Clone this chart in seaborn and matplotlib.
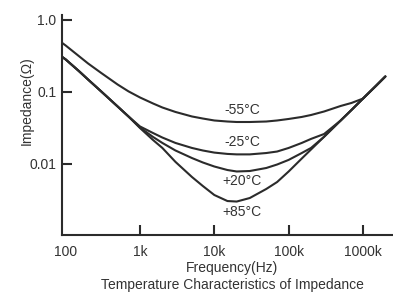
import numpy as np
import pandas as pd
import matplotlib
matplotlib.use("Agg")
import matplotlib.pyplot as plt
from matplotlib.ticker import FixedLocator, FixedFormatter, NullLocator
import seaborn as sns

# ---- data (frequency in Hz, impedance in ohm) ----
freq = [90, 100, 150, 200, 300, 500, 700, 1e3, 1.5e3, 2e3, 3e3, 5e3, 7e3,
        1e4, 1.5e4, 2e4, 3e4, 5e4, 7e4, 1e5, 1.5e5, 2e5, 3e5, 5e5, 7e5,
        1e6, 1.5e6, 2e6]

z_m55 = [0.479, 0.442, 0.316, 0.249, 0.184, 0.127, 0.102, 0.0839, 0.0692,
         0.0609, 0.0528, 0.0457, 0.0428, 0.0402, 0.0389, 0.0383, 0.0383,
         0.0389, 0.0402, 0.0422, 0.0450, 0.0479, 0.0536, 0.0639, 0.0704,
         0.0810, 0.122, 0.164]

z_m25 = [0.306, 0.283, 0.196, 0.149, 0.102, 0.0629, 0.0457, 0.0332, 0.0269,
         0.0233, 0.0196, 0.0167, 0.0154, 0.0144, 0.0138, 0.0136, 0.0136,
         0.0142, 0.0149, 0.0167, 0.0196, 0.0223, 0.0261, 0.0401, 0.0562,
         0.0810, 0.122, 0.164]

z_p20 = [0.306, 0.283, 0.196, 0.149, 0.102, 0.0629, 0.0457, 0.0321, 0.0237,
         0.0196, 0.0154, 0.0121, 0.0105, 0.00923, 0.00825, 0.00787, 0.00799,
         0.00880, 0.00984, 0.0114, 0.0142, 0.0167, 0.0239, 0.0401, 0.0562,
         0.0810, 0.122, 0.164]

z_p85 = [0.306, 0.283, 0.196, 0.149, 0.102, 0.0629, 0.0457, 0.0316, 0.0215,
         0.0167, 0.0107, 0.00660, 0.00495, 0.00371, 0.00306, 0.00301,
         0.00337, 0.00450, 0.00562, 0.00787, 0.0119, 0.0159, 0.0239, 0.0401,
         0.0562, 0.0810, 0.122, 0.164]

temps = ["-55°C", "-25°C", "+20°C", "+85°C"]
x_ticks = [100, 1e3, 1e4, 1e5, 1e6]
x_tick_labels = ["100", "1k", "10k", "100k", "1000k"]
y_ticks = [1.0, 0.1, 0.01]
y_tick_labels = ["1.0", "0.1", "0.01"]

series = [z_m55, z_m25, z_p20, z_p85]
df = pd.concat(
    [pd.DataFrame({"Frequency": freq, "Impedance": z, "Temp": t})
     for z, t in zip(series, temps)],
    ignore_index=True)

# ---- styling ----
sns.set_style("white")
plt.rcParams["font.family"] = ["Liberation Sans", "DejaVu Sans"]
plt.rcParams["font.size"] = 10

ink = "#2b2b2b"
txt = "#333333"

fig = plt.figure(figsize=(3.93, 2.94), dpi=100)
ax = fig.add_axes([62 / 393, 1 - 235 / 294, 1 - 62 / 393, 220 / 294])
ax.set_xscale("log")
ax.set_yscale("log")

sns.lineplot(data=df, x="Frequency", y="Impedance", hue="Temp",
             palette=[ink] * 4, estimator=None, legend=False,
             linewidth=1.5, ax=ax)

ax.set_xlim(10 ** 1.9506, 10 ** 6.404)
ax.set_ylim(10 ** -2.986, 10 ** 0.069)

ax.xaxis.set_major_locator(FixedLocator(x_ticks))
ax.xaxis.set_major_formatter(FixedFormatter(x_tick_labels))
ax.xaxis.set_minor_locator(NullLocator())
ax.yaxis.set_major_locator(FixedLocator(y_ticks))
ax.yaxis.set_major_formatter(FixedFormatter(y_tick_labels))
ax.yaxis.set_minor_locator(NullLocator())

ax.tick_params(axis="x", which="major", bottom=True, direction="in",
               length=7, width=1.5, color=ink, labelcolor=txt,
               labelsize=10, pad=7)
ax.tick_params(axis="y", which="major", left=True, direction="in",
               length=7, width=1.5, color=ink, labelcolor=txt,
               labelsize=10, pad=4)
ax.xaxis.get_major_ticks()[0].tick1line.set_visible(False)

for s in ["top", "right"]:
    ax.spines[s].set_visible(False)
for s in ["left", "bottom"]:
    ax.spines[s].set_color(ink)
    ax.spines[s].set_linewidth(1.5)

ax.set_xlabel("Frequency(Hz)", color=txt, fontsize=10)
ax.xaxis.set_label_coords((232 - 62) / 331, (235 - 268) / 220)
ax.xaxis.label.set_va("center")
ax.set_ylabel("Impedance(Ω)", color=txt, fontsize=10)
ax.yaxis.set_label_coords((27 - 62) / 331, (235 - 101) / 220)
ax.yaxis.label.set_va("center")

label_y = [(235 - 110) / 220, (235 - 142) / 220, (235 - 181) / 220, (235 - 212) / 220]
for t, yy in zip(temps, label_y):
    ax.text((242 - 62) / 331, yy, t, transform=ax.transAxes, ha="center",
            va="center", color=txt, fontsize=10)

fig.text(232 / 393, 1 - 285 / 294, "Temperature Characteristics of Impedance",
         ha="center", va="center", color=txt, fontsize=10)

fig.savefig("out.png", dpi=100)
